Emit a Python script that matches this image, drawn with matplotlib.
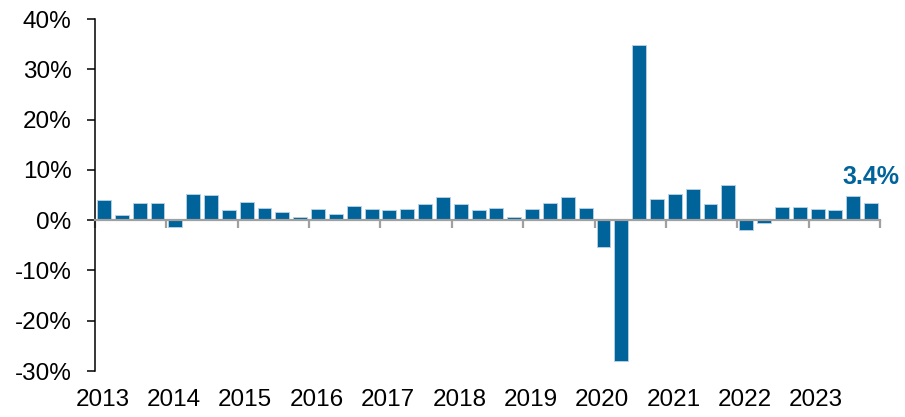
import numpy as np
import matplotlib.pyplot as plt

#%% datos: crecimiento trimestral (%), 2013 T1 a 2023 T4
anios = ['2013', '2014', '2015', '2016', '2017', '2018',
         '2019', '2020', '2021', '2022', '2023']
crecimiento = [4.0, 1.1, 3.5, 3.5,
               -1.4, 5.3, 5.0, 2.0,
               3.6, 2.5, 1.6, 0.6,
               2.3, 1.3, 2.9, 2.2,
               2.0, 2.3, 3.2, 4.6,
               3.3, 2.1, 2.5, 0.6,
               2.2, 3.4, 4.6, 2.5,
               -5.3, -28.0, 34.9, 4.2,
               5.2, 6.2, 3.3, 7.0,
               -2.0, -0.6, 2.7, 2.6,
               2.2, 2.1, 4.9, 3.4]
etiqueta_ultimo = '3.4%'

azul = '#00639a'
gris = '#a0a0a0'
fuente = 'Liberation Sans'

#%% grafico
fig = plt.figure(figsize=(9.05, 4.17), dpi=100)
ax = fig.add_axes([0.105, 0.1103, 0.8674, 0.8441])

x = np.arange(len(crecimiento))
ax.bar(x, crecimiento, width=0.78, color=azul, edgecolor='#b9d2e6', linewidth=0.6, zorder=2)

ax.set_xlim(-0.5, len(crecimiento) - 0.5)
ax.set_ylim(-30, 40)

# eje y
ax.set_yticks(np.arange(-30, 41, 10))
ax.set_yticklabels([str(v) + '%' for v in range(-30, 41, 10)], fontsize=17.5, family=fuente)
ax.tick_params(axis='y', length=6, width=1.1, color='black', pad=11)
ax.spines['left'].set_linewidth(1.1)
ax.spines['top'].set_visible(False)
ax.spines['right'].set_visible(False)

# linea del cero con marcas al inicio de cada anio
ax.spines['bottom'].set_position(('data', 0))
ax.spines['bottom'].set_color(gris)
ax.spines['bottom'].set_linewidth(1.6)
ax.spines['bottom'].set_zorder(3)
ax.set_xticks(np.arange(-0.5, len(crecimiento), 4))
ax.tick_params(axis='x', length=5.5, width=1.6, color=gris, labelbottom=False)

# etiquetas de los anios abajo de todo
sec = ax.secondary_xaxis('bottom')
sec.set_xticks(np.arange(len(anios)) * 4 - 0.08)
sec.set_xticklabels(anios, fontsize=17.5, family=fuente)
sec.tick_params(length=0, pad=13)
sec.spines['bottom'].set_visible(False)

# valor del ultimo trimestre
ax.text(x[-1], 8.5, etiqueta_ultimo, color=azul, fontsize=18, fontweight='bold',
        family=fuente, ha='center', va='center')

plt.savefig('out.png', dpi=100)
